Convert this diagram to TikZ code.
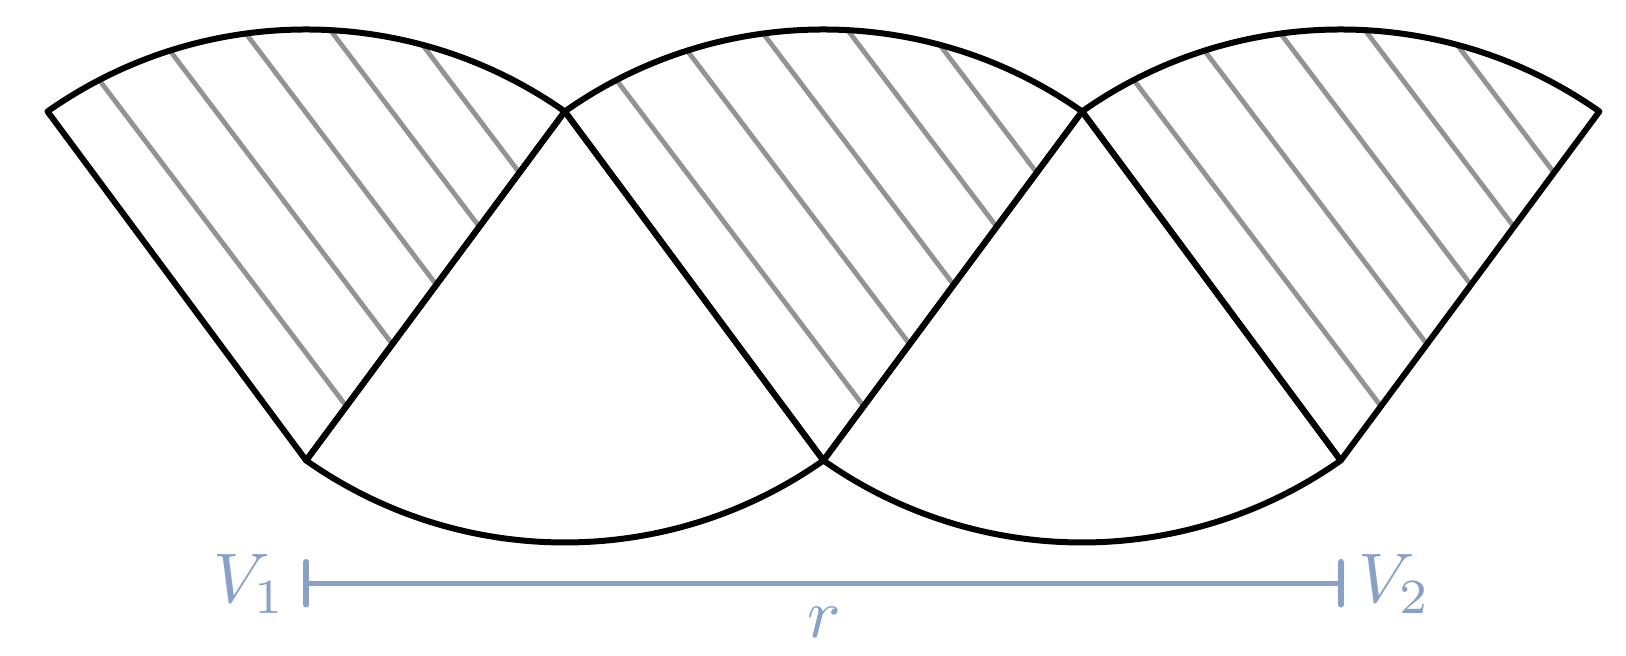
\documentclass[tikz,border=0pt]{standalone}
\definecolor{hatchgray}{RGB}{147,147,147}
\definecolor{barblue}{RGB}{137,161,199}
\begin{document}
\begin{tikzpicture}[x=0.1mm,y=0.1mm,
  edge/.style={draw=black,line width=0.6mm,line join=round},
  hatch/.style={draw=hatchgray,line width=0.48mm},
  bar/.style={draw=barblue,line width=0.55mm,line cap=round},
  lab/.style={text=barblue,font=\normalsize,scale=2,inner sep=0pt}]
\useasboundingbox (0,0) rectangle (1626,656);
\def\Rad{44.893mm}
% hatching of the three upper cones
\foreach \k in {0,1,2}{
  \begin{scope}[shift={(\k*517.3,0)}]
    \path[clip] (47.5,544.5) arc[start angle=125.18,end angle=54.82,radius=\Rad] -- (306.15,195.5) -- cycle;
    \foreach \x in {123,216,305,392,473}
      \draw[hatch] ({\x-117.8},700) -- ({\x+298.9},150);
  \end{scope}
}
% outlines of the upper cones
\foreach \k in {0,1,2}
  \draw[edge,shift={(\k*517.3,0)}] (47.5,544.5) arc[start angle=125.18,end angle=54.82,radius=\Rad] -- (306.15,195.5) -- cycle;
% outlines of the lower cones
\foreach \k in {0,1}
  \draw[edge,shift={(\k*517.3,0)}] (306.15,195.5) arc[start angle=234.82,end angle=305.18,radius=\Rad] -- (564.8,544.5) -- cycle;
% scale bar
\coordinate (L) at (306.15,72.7);
\coordinate (Rt) at (1340.75,72.7);
\coordinate (Ltop) at (306.15,94.2);
\coordinate (Lbot) at (306.15,51.2);
\coordinate (Rtop) at (1340.75,94.2);
\coordinate (Rbot) at (1340.75,51.2);
\draw[bar] (L) -- (Rt);
\draw[bar] (Lbot) -- (Ltop);
\draw[bar] (Rbot) -- (Rtop);
\node[lab,anchor=base east] (v1) at (287,53) {$V_1$};
\node[lab,anchor=base west] (v2) at (1357,53) {$V_2$};
\node[lab,anchor=base] (r) at (824,18) {$r$};
\end{tikzpicture}
\end{document}
